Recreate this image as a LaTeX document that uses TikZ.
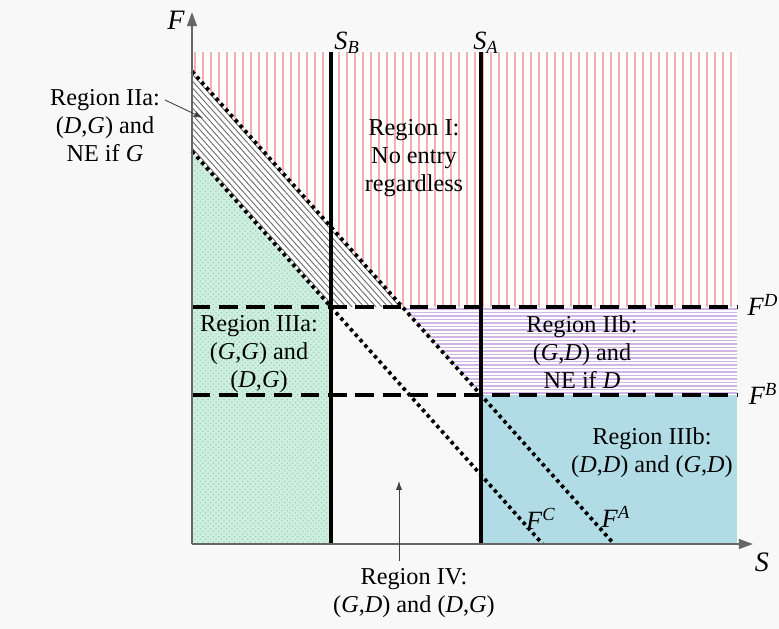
\documentclass[tikz,border=0pt]{standalone}
\usepackage{fontspec}
\setmainfont{Liberation Serif}
\usetikzlibrary{arrows.meta,patterns}
\definecolor{Bg}{HTML}{F8F8F8}
\definecolor{Pink}{HTML}{F4AEAE}
\definecolor{Lilac}{HTML}{D0B4E6}
\definecolor{Mint}{HTML}{CFEEDF}
\definecolor{MintDot}{HTML}{98D8BC}
\definecolor{Sky}{HTML}{B1DCE5}
\definecolor{Hatch}{HTML}{6A6A6A}
\definecolor{AxisGray}{HTML}{666666}
\tikzset{
  regiontext/.style={font=\fontsize{13.8}{15.9}\selectfont,align=center,inner sep=0pt},
  axlabel/.style={font=\fontsize{16}{18}\selectfont\itshape,inner sep=0pt},
  curvelabel/.style={font=\fontsize{15}{17}\selectfont,inner sep=0pt},
  axisline/.style={draw=AxisGray,line width=1.2pt,-{Triangle[length=8pt,width=5.5pt]}},
  sline/.style={black,line width=2pt},
  fline/.style={black,line width=2pt,dash pattern=on 10.5pt off 5pt},
  dotline/.style={black,line width=2.1pt,dash pattern=on 2pt off 2.1pt},
  pointer/.style={black!75,line width=0.5pt,-{Latex[length=5pt,width=3.5pt]}}
}
\newcommand{\pr}[2]{(\textit{#1},\textit{#2})}
\begin{document}
\begin{tikzpicture}[x=0.02cm,y=-0.02cm]
  \fill[Bg] (0,0) rectangle (779,629);
  \useasboundingbox (0,0) rectangle (779,629);
  % key points
  \coordinate (O) at (192,544);
  \coordinate (xtip) at (753,544);
  \coordinate (ytip) at (192,12);
  \coordinate (SBtop) at (331,52);
  \coordinate (SBbot) at (331,544);
  \coordinate (SAtop) at (481,52);
  \coordinate (SAbot) at (481,544);
  \coordinate (FDl) at (192,307);
  \coordinate (FDr) at (737,307);
  \coordinate (FBl) at (192,395);
  \coordinate (FBr) at (737,395);
  \coordinate (FAtop) at (192,71.3);
  \coordinate (FAbot) at (614,544);
  \coordinate (FCtop) at (192,151.3);
  \coordinate (FCbot) at (542.6,544);
  \coordinate (FAxFD) at (402.4,307);
  \coordinate (FAxFB) at (481,395);
  \coordinate (FCxFD) at (331,307);
  % Region I
  \fill[white] (192,52) -- (737,52) -- (FDr) -- (FAxFD) -- (FAtop) -- cycle;
  \begin{scope}
    \clip (192,52) -- (737,52) -- (FDr) -- (FAxFD) -- (FAtop) -- cycle;
    \foreach \x in {195,203,...,739} \draw[Pink,line width=1pt] (\x,52) -- (\x,307);
  \end{scope}
  % Region IIa
  \fill[white] (FAtop) -- (FAxFD) -- (FCxFD) -- (FCtop) -- cycle;
  \begin{scope}
    \clip (FAtop) -- (FAxFD) -- (FCxFD) -- (FCtop) -- cycle;
    \foreach \x in {-600,-594,...,420} \draw[Hatch,line width=0.5pt] (\x,0) -- ++(600,672);
  \end{scope}
  % Region IIIa
  \fill[Mint] (FCtop) -- (FCxFD) -- (SBbot) -- (O) -- cycle;
  \fill[pattern=crosshatch dots,pattern color=MintDot] (FCtop) -- (FCxFD) -- (SBbot) -- (O) -- cycle;
  % Region IIb
  \fill[white] (FAxFD) -- (FDr) -- (FBr) -- (FAxFB) -- cycle;
  \begin{scope}
    \clip (FAxFD) -- (FDr) -- (FBr) -- (FAxFB) -- cycle;
    \foreach \y in {309,312.5,...,395} \draw[Lilac,line width=0.8pt] (390,\y) -- (740,\y);
  \end{scope}
  % Region IIIb
  \fill[Sky] (FAxFB) rectangle (737,544);
  % thresholds
  \draw[sline] (SBtop) -- (SBbot);
  \draw[sline] (SAtop) -- (SAbot);
  \draw[fline] (FDl) -- (FDr);
  \draw[fline] (FBl) -- (FBr);
  \draw[dotline] (FAtop) -- (FAbot);
  \draw[dotline] (FCtop) -- (FCbot);
  % axes
  \draw[axisline] (O) -- (xtip);
  \draw[axisline] (O) -- (ytip);
  \node[axlabel] (Flab) at (176,20) {F};
  \node[axlabel] (Slab) at (762,562) {S};
  \node[curvelabel] (SBlab) at (347,43) {\textit{S}\textsubscript{\textit{B}}};
  \node[curvelabel] (SAlab) at (486,43) {\textit{S}\textsubscript{\textit{A}}};
  \node[curvelabel] (FDlab) at (763,305) {\textit{F}\textsuperscript{\textit{D}}};
  \node[curvelabel] (FBlab) at (763,394) {\textit{F}\textsuperscript{\textit{B}}};
  \node[curvelabel] (FClab) at (541,519) {\textit{F}\textsuperscript{\textit{C}}};
  \node[curvelabel] (FAlab) at (616,517) {\textit{F}\textsuperscript{\textit{A}}};
  % region texts
  \node[regiontext] (rI) at (414,158) {Region I:\\No entry\\regardless};
  \node[regiontext] (rIIa) at (105,126) {Region IIa:\\\pr{D}{G} and\\NE if \textit{G}};
  \node[regiontext] (rIIIa) at (259,354) {Region IIIa:\\\pr{G}{G} and\\\pr{D}{G}};
  \node[regiontext] (rIIb) at (582,352) {Region IIb:\\\pr{G}{D} and\\NE if \textit{D}};
  \node[regiontext] (rIIIb) at (652,453) {Region IIIb:\\\pr{D}{D} and \pr{G}{D}};
  \node[regiontext] (rIV) at (414,593) {Region IV:\\\pr{G}{D} and \pr{D}{G}};
  \coordinate (iiatail) at (165,100);
  \coordinate (iiahead) at (203,118);
  \coordinate (ivtail) at (399,561);
  \coordinate (ivhead) at (399,481);
  \draw[pointer] (iiatail) -- (iiahead);
  \draw[pointer] (ivtail) -- (ivhead);
\end{tikzpicture}
\end{document}
